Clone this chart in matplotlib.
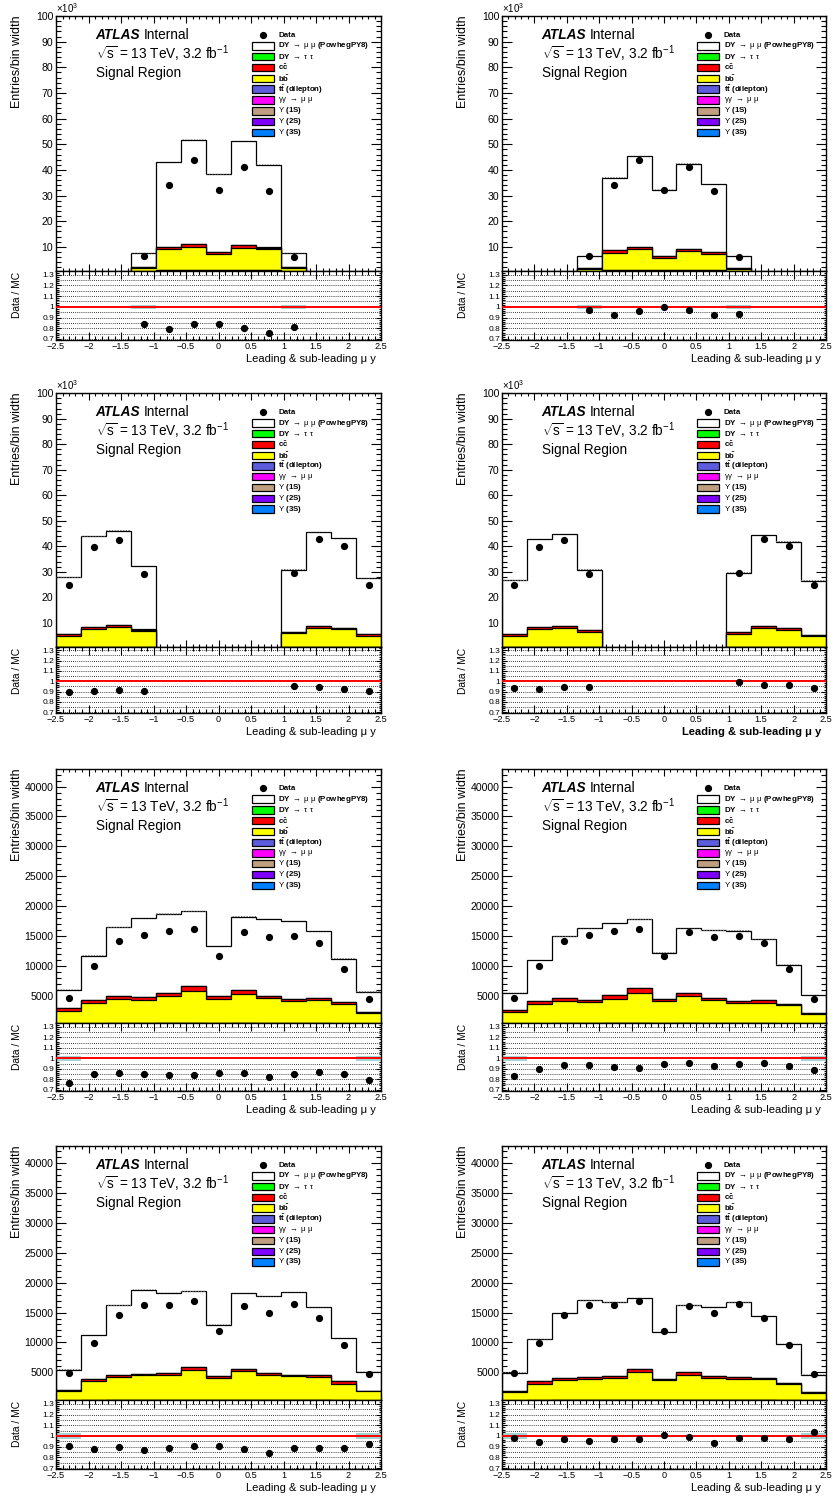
import numpy as np
import matplotlib
matplotlib.use("Agg")
import matplotlib.pyplot as plt
from matplotlib.ticker import MultipleLocator, FuncFormatter
from matplotlib.patches import Rectangle

plt.rcParams['font.family'] = ['Liberation Sans', 'DejaVu Sans']
plt.rcParams['mathtext.fontset'] = 'custom'
plt.rcParams['mathtext.rm'] = 'Liberation Sans'
plt.rcParams['mathtext.it'] = 'Liberation Sans:italic'
plt.rcParams['mathtext.bf'] = 'Liberation Sans:bold'
plt.rcParams['hatch.linewidth'] = 0.6

# ---------------------------------------------------------------- binning
edges = np.linspace(-2.5, 2.5, 14)   # 13 equal bins in muon rapidity

# ---------------------------------------------------------------- row 1 (central bins only)
data_r1 = [0, 0, 0, 6350, 34300, 43700, 32200, 41000, 31700, 6100, 0, 0, 0]
gg_r1 = [0, 0, 0, 300, 900, 900, 900, 900, 900, 300, 0, 0, 0]
tt_r1 = [0, 0, 0, 10, 40, 40, 40, 40, 40, 10, 0, 0, 0]
dytt_r1 = [0, 0, 0, 20, 60, 60, 60, 60, 60, 20, 0, 0, 0]
unc_r1 = [0, 0, 0, 0.016, 0.004, 0.004, 0.004, 0.004, 0.004, 0.016, 0, 0, 0]

bb_a = [0, 0, 0, 1600, 8200, 9100, 6200, 8800, 8100, 1600, 0, 0, 0]
cc_a = [0, 0, 0, 200, 900, 1000, 700, 1100, 700, 200, 0, 0, 0]
dymm_a = [0, 0, 0, 5400, 33000, 40700, 30400, 40400, 32300, 5400, 0, 0, 0]

bb_b = [0, 0, 0, 1200, 6600, 8200, 4900, 7300, 6200, 1200, 0, 0, 0]
cc_b = [0, 0, 0, 200, 1200, 900, 500, 1000, 900, 200, 0, 0, 0]
dymm_b = [0, 0, 0, 4800, 28200, 35300, 25900, 33100, 26300, 4800, 0, 0, 0]

# ---------------------------------------------------------------- row 2 (forward bins only)
data_r2 = [24800, 39800, 42400, 29100, 0, 0, 0, 0, 0, 29400, 42700, 40100, 24800]
gg_r2 = [500, 500, 500, 500, 0, 0, 0, 0, 0, 500, 500, 500, 500]
tt_r2 = [30, 40, 40, 30, 0, 0, 0, 0, 0, 30, 40, 40, 30]
dytt_r2 = [40, 60, 60, 40, 0, 0, 0, 0, 0, 40, 60, 60, 40]
unc_r2 = [0.004, 0.003, 0.003, 0.004, 0, 0, 0, 0, 0, 0.004, 0.003, 0.003, 0.004]

bb_c = [4300, 7000, 7700, 6200, 0, 0, 0, 0, 0, 5300, 7500, 6900, 4400]
cc_c = [800, 800, 800, 600, 0, 0, 0, 0, 0, 400, 800, 600, 500]
dymm_c = [22100, 35500, 37000, 24900, 0, 0, 0, 0, 0, 24600, 36500, 35100, 21900]

bb_d = [4400, 6900, 7500, 6000, 0, 0, 0, 0, 0, 5100, 7300, 6600, 4100]
cc_d = [500, 900, 800, 500, 0, 0, 0, 0, 0, 600, 900, 800, 600]
dymm_d = [21100, 34500, 35900, 23700, 0, 0, 0, 0, 0, 23400, 35700, 33800, 21200]

# ---------------------------------------------------------------- row 3
data_r3 = [4550, 9870, 14070, 15190, 15750, 16140, 11550, 15580, 14740, 14970, 13790, 9480, 4440]
gg_r3 = [150, 250, 300, 300, 350, 350, 300, 350, 300, 300, 300, 250, 150]
tt_r3 = [10, 20, 20, 20, 20, 20, 20, 20, 20, 20, 20, 20, 10]
dytt_r3 = [10, 20, 30, 30, 30, 30, 20, 30, 30, 30, 30, 20, 10]
unc_r3 = [0.025, 0.007, 0.005, 0.005, 0.005, 0.005, 0.009, 0.005, 0.005, 0.005, 0.005, 0.007, 0.025]

bb_e = [2220, 3520, 4080, 3970, 4480, 5380, 4080, 4820, 4310, 3750, 3860, 3350, 1880]
cc_e = [500, 500, 560, 390, 620, 780, 510, 780, 330, 390, 390, 280, 230]
dymm_e = [3080, 7330, 11430, 13220, 13160, 12550, 8450, 12210, 12880, 13050, 11200, 7280, 3300]

bb_f = [2050, 3240, 3690, 3580, 4090, 5040, 3750, 4480, 3860, 3410, 3470, 3070, 1770]
cc_f = [390, 500, 620, 390, 560, 790, 390, 560, 450, 390, 500, 280, 170]
dymm_f = [2860, 7000, 10300, 11930, 12100, 11530, 7730, 10870, 11310, 11710, 10080, 6550, 2910]

# ---------------------------------------------------------------- row 4
data_r4 = [4830, 9930, 14520, 16260, 16310, 16870, 11830, 16030, 14970, 16420, 14130, 9540, 4720]
gg_r4 = [150, 250, 300, 300, 350, 350, 300, 350, 300, 300, 300, 250, 150]
tt_r4 = [10, 20, 20, 20, 20, 20, 20, 20, 20, 20, 20, 20, 10]
dytt_r4 = [10, 20, 30, 30, 30, 30, 20, 30, 30, 30, 30, 20, 10]
unc_r4 = [0.025, 0.007, 0.005, 0.005, 0.005, 0.005, 0.008, 0.005, 0.005, 0.005, 0.005, 0.007, 0.025]

bb_g = [1770, 3180, 3860, 4140, 4200, 4930, 3690, 4760, 4140, 3970, 3860, 2790, 1660]
cc_g = [110, 450, 280, 280, 280, 560, 280, 450, 390, 280, 280, 450, 110]
dymm_g = [3300, 7340, 11700, 14000, 13440, 12660, 8680, 12600, 12880, 13830, 11370, 7220, 3180]

bb_h = [1490, 2680, 3410, 3580, 3700, 4650, 3300, 4200, 3690, 3580, 3470, 2680, 1380]
cc_h = [170, 500, 340, 280, 220, 450, 220, 390, 340, 280, 280, 220, 110]
dymm_h = [3080, 7060, 10860, 12880, 12380, 11870, 7900, 11260, 11590, 12540, 10360, 6610, 2910]

# Upsilon contributions are negligible at these masses
upsilon_1s = [0, 0, 0, 0, 0, 0, 0, 0, 0, 0, 0, 0, 0]
upsilon_2s = [0, 0, 0, 0, 0, 0, 0, 0, 0, 0, 0, 0, 0]
upsilon_3s = [0, 0, 0, 0, 0, 0, 0, 0, 0, 0, 0, 0, 0]

# ---------------------------------------------------------------- legend / styles
legend_labels = [
    r'DY $\mathrm{\rightarrow\ \mu\ \mu}$ (PowhegPY8)',
    r'DY $\mathrm{\rightarrow\ \tau\ \tau}$',
    r'$\mathbf{c\bar{c}}$',
    r'$\mathbf{b\bar{b}}$',
    r'$\mathbf{t\bar{t}}$ (dilepton)',
    r'$\mathrm{\gamma\gamma\ \rightarrow\ \mu\ \mu}$',
    r'$\mathrm{\Upsilon}$ (1S)',
    r'$\mathrm{\Upsilon}$ (2S)',
    r'$\mathrm{\Upsilon}$ (3S)',
]
legend_colors = ['#ffffff', '#00ff00', '#ff0000', '#ffff00', '#5c5cdc',
                 '#ff00ff', '#bf9f80', '#8000ff', '#0080ff']

W, H = 834, 1497
fig = plt.figure(figsize=(W / 100, H / 100), dpi=100)

cols_px = [(56, 381), (502, 826)]
rows_px = [(16, 271, 340), (393.3, 646.7, 713.3), (769.3, 1023.3, 1090.7), (1146, 1400, 1469.3)]

panels = [
    # row, col, data, gg, tt, dytt, bb, cc, dymm, unc, thousands
    (0, 0, data_r1, gg_r1, tt_r1, dytt_r1, bb_a, cc_a, dymm_a, unc_r1, True),
    (0, 1, data_r1, gg_r1, tt_r1, dytt_r1, bb_b, cc_b, dymm_b, unc_r1, True),
    (1, 0, data_r2, gg_r2, tt_r2, dytt_r2, bb_c, cc_c, dymm_c, unc_r2, True),
    (1, 1, data_r2, gg_r2, tt_r2, dytt_r2, bb_d, cc_d, dymm_d, unc_r2, True),
    (2, 0, data_r3, gg_r3, tt_r3, dytt_r3, bb_e, cc_e, dymm_e, unc_r3, False),
    (2, 1, data_r3, gg_r3, tt_r3, dytt_r3, bb_f, cc_f, dymm_f, unc_r3, False),
    (3, 0, data_r4, gg_r4, tt_r4, dytt_r4, bb_g, cc_g, dymm_g, unc_r4, False),
    (3, 1, data_r4, gg_r4, tt_r4, dytt_r4, bb_h, cc_h, dymm_h, unc_r4, False),
]

centers = 0.5 * (edges[:-1] + edges[1:])
width = edges[1] - edges[0]


def fx(px):
    return px / W


def fy(py):
    return 1 - py / H


for (r, c, data, gg, tt, dytt, bb, cc, dymm, unc, thousands) in panels:
    x0, x1 = cols_px[c]
    top, split, bot = rows_px[r]
    axm = fig.add_axes([fx(x0), fy(split), fx(x1 - x0), (split - top) / H])
    axr = fig.add_axes([fx(x0), fy(bot), fx(x1 - x0), (bot - split) / H])

    # stack, bottom to top
    stack = np.array([upsilon_3s, upsilon_2s, upsilon_1s, gg, tt, bb, cc, dytt, dymm], dtype=float)
    colors = legend_colors[::-1]
    cum = np.cumsum(stack, axis=0)
    for i in reversed(range(len(stack))):
        axm.stairs(cum[i], edges, baseline=0, fill=True, facecolor=colors[i],
                   edgecolor='black', lw=0.9, zorder=2)
    total = cum[-1]
    unc = np.array(unc)
    axm.stairs(total * (1 + unc), edges, baseline=total * (1 - unc), fill=True,
               facecolor='none', edgecolor='0.45', hatch='......', lw=0, zorder=3)

    data = np.array(data, dtype=float)
    mask = total > 0
    axm.plot(centers[mask], data[mask], 'o', color='black', ms=4.2, zorder=5)

    # axes ranges and ticks
    axm.set_xlim(-2.5, 2.5)
    if thousands:
        axm.set_ylim(600, 100000)
        axm.yaxis.set_major_locator(MultipleLocator(10000))
        axm.yaxis.set_minor_locator(MultipleLocator(2000))
        axm.yaxis.set_major_formatter(FuncFormatter(lambda v, p: f'{v / 1000:g}'))
        axm.text(0.0, 1.004, r'$\times$10$^{3}$', transform=axm.transAxes,
                 fontsize=7.0, ha='left', va='bottom')
    else:
        axm.set_ylim(350, 42900)
        axm.yaxis.set_major_locator(MultipleLocator(5000))
        axm.yaxis.set_minor_locator(MultipleLocator(1000))
        axm.yaxis.set_major_formatter(FuncFormatter(lambda v, p: f'{v:g}'))
    axm.xaxis.set_major_locator(MultipleLocator(0.5))
    axm.xaxis.set_minor_locator(MultipleLocator(0.1))
    axm.tick_params(axis='both', which='both', direction='in', top=True, right=True,
                    labelbottom=False, labelsize=7.6, pad=2, width=0.8)
    axm.tick_params(axis='y', which='major', length=7)
    axm.tick_params(axis='y', which='minor', length=3.5)
    axm.tick_params(axis='x', which='major', length=5)
    axm.tick_params(axis='x', which='minor', length=2.5)

    # text block
    axm.text(0.122, 0.925, 'ATLAS', transform=axm.transAxes, fontsize=9.8,
             fontweight='bold', fontstyle='italic', ha='left', va='center')
    axm.text(0.270, 0.925, 'Internal', transform=axm.transAxes, fontsize=9.8,
             ha='left', va='center')
    axm.text(0.122, 0.851, r'$\sqrt{\mathrm{s}}$ = 13 TeV, 3.2 fb$^{\mathrm{-1}}$',
             transform=axm.transAxes, fontsize=9.8, ha='left', va='center')
    axm.text(0.122, 0.775, 'Signal Region', transform=axm.transAxes, fontsize=9.8,
             ha='left', va='center')

    # legend
    lx0, lx1, ltx = 0.602, 0.671, 0.684
    ly0, ldy, lh = 0.925, 0.0424, 0.029
    axm.plot([(lx0 + lx1) / 2], [ly0], 'o', color='black', ms=4.2,
             transform=axm.transAxes, clip_on=False, zorder=6)
    axm.text(ltx, ly0, 'Data', transform=axm.transAxes, fontsize=5.7,
             fontweight='bold', ha='left', va='center')
    for k, (lab, col) in enumerate(zip(legend_labels, legend_colors)):
        yk = ly0 - (k + 1) * ldy
        axm.add_patch(Rectangle((lx0, yk - lh / 2), lx1 - lx0, lh, transform=axm.transAxes,
                                facecolor=col, edgecolor='black', lw=0.9, zorder=6))
        axm.text(ltx, yk, lab, transform=axm.transAxes, fontsize=5.7,
                 fontweight='bold', ha='left', va='center', zorder=6)

    # ratio panel
    ratio = np.where(mask, data / np.where(mask, total, 1), np.nan)
    for yv in np.arange(0.70, 1.31, 0.05):
        if abs(yv - 1.0) > 1e-6:
            axr.axhline(yv, color='black', lw=0.6, ls=(0, (1, 1.5)), zorder=1)
    axr.bar(centers[mask], 2 * unc[mask], bottom=1 - unc[mask], width=width,
            color='#a4d4d4', edgecolor='none', zorder=2)
    axr.axhline(1.0, color='#ff0000', lw=1.4, zorder=3)
    axr.plot(centers[mask], ratio[mask], 'o', color='black', ms=4.2, zorder=5)
    axr.set_xlim(-2.5, 2.5)
    axr.set_ylim(0.69, 1.335)
    axr.xaxis.set_major_locator(MultipleLocator(0.5))
    axr.xaxis.set_minor_locator(MultipleLocator(0.1))
    axr.yaxis.set_major_locator(MultipleLocator(0.1))
    axr.yaxis.set_minor_locator(MultipleLocator(0.02))
    axr.xaxis.set_major_formatter(FuncFormatter(lambda v, p: f'{v:g}'.replace('-', '\u2212')))
    axr.yaxis.set_major_formatter(FuncFormatter(lambda v, p: f'{v:.1f}'.rstrip('0').rstrip('.')))
    axr.tick_params(axis='both', which='both', direction='in', top=True, right=True,
                    pad=1.5, width=0.8)
    axr.tick_params(axis='x', which='major', length=6, labelsize=6.6)
    axr.tick_params(axis='x', which='minor', length=3)
    axr.tick_params(axis='y', which='major', length=3.5, labelsize=6.0)
    axr.tick_params(axis='y', which='minor', length=1.8)
    for ax in (axm, axr):
        for s in ax.spines.values():
            s.set_linewidth(1.0)

    # axis titles
    fig.text(fx(x0 - 39), fy(top - 1), 'Entries/bin width', rotation=90,
             fontsize=9.0, ha='center', va='top')
    fig.text(fx(x0 - 39), fy(split + 1), 'Data / MC', rotation=90,
             fontsize=7.4, ha='center', va='top')
    xlab = 'Leading & sub-leading μ y'
    fig.text(fx(x1 - 5), fy(bot + 19), xlab, fontsize=8.0, ha='right', va='center',
             fontweight='bold' if (r == 1 and c == 1) else 'normal')

fig.savefig('out.png', dpi=100)
